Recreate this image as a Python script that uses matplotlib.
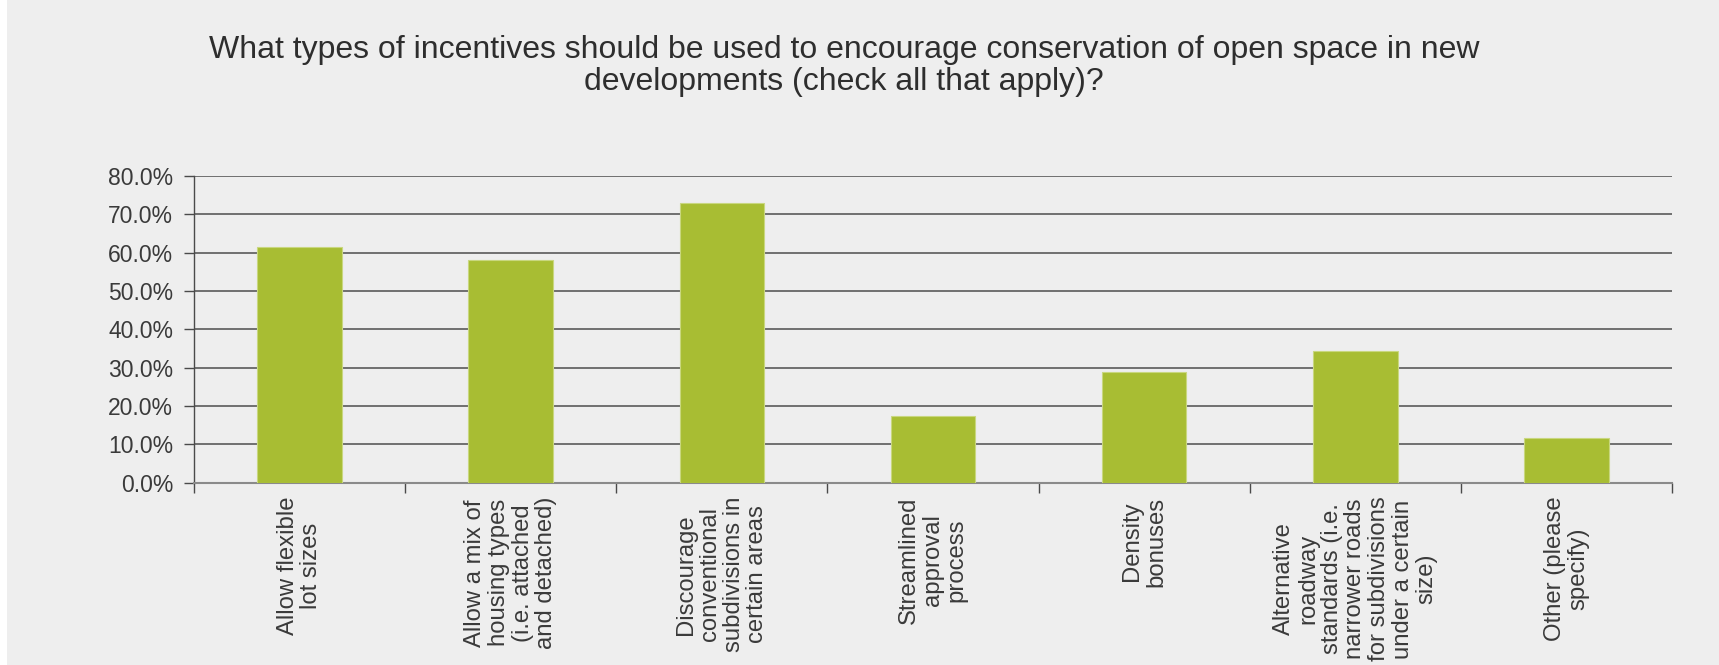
import matplotlib
matplotlib.use("Agg")
import matplotlib.pyplot as plt
from matplotlib.patches import Rectangle
from matplotlib.ticker import FuncFormatter, MultipleLocator

title = ("What types of incentives should be used to encourage conservation of open space in new\n"
         "developments (check all that apply)?")
categories = [
    "Allow flexible\nlot sizes",
    "Allow a mix of\nhousing types\n(i.e. attached\nand detached)",
    "Discourage\nconventional\nsubdivisions in\ncertain areas",
    "Streamlined\napproval\nprocess",
    "Density\nbonuses",
    "Alternative\nroadway\nstandards (i.e.\nnarrower roads\nfor subdivisions\nunder a certain\nsize)",
    "Other (please\nspecify)",
]
values = [61.4, 58.1, 73.0, 17.4, 29.0, 34.4, 11.6]

plt.rcParams['font.family'] = ['Liberation Sans', 'DejaVu Sans']
text_color = '#3a3a3a'
bg = '#eeeeee'

fig = plt.figure(figsize=(17.19, 6.65), dpi=100, facecolor=bg)
fig.patches.append(Rectangle((0, 0), 7 / 1719, 1, transform=fig.transFigure,
                             facecolor='white', edgecolor='none', zorder=-1))
ax = fig.add_axes([194 / 1719, 1 - 482.7 / 665, (1672 - 194) / 1719, (482.7 - 176) / 665])
ax.set_facecolor(bg)

x = list(range(len(categories)))
ax.bar(x, values, width=0.4, color='#a8bd33', edgecolor='#c9d77f', linewidth=0.8, zorder=3)

ax.set_ylim(0, 80)
ax.set_xlim(-0.5, len(categories) - 0.5)
ax.yaxis.set_major_locator(MultipleLocator(10))
ax.yaxis.set_major_formatter(FuncFormatter(lambda v, p: f"{v:.1f}%"))
ax.grid(axis='y', color='#5a5a5a', linewidth=1.2, zorder=0)
ax.set_axisbelow(True)

for s in ['top', 'right']:
    ax.spines[s].set_visible(False)
ax.spines['left'].set_color('#4a4a4a')
ax.spines['left'].set_linewidth(1.0)
ax.spines['bottom'].set_color('#8a8a8a')
ax.spines['bottom'].set_linewidth(1.5)

ax.tick_params(axis='y', direction='out', length=7, width=1, color='#4a4a4a',
               labelsize=16.5, labelcolor=text_color, pad=8)
ax.set_xticks([i + 0.5 for i in range(-1, len(categories))], minor=False)
ax.set_xticklabels([])
ax.tick_params(axis='x', which='major', direction='out', length=7, width=1, color='#4a4a4a')
ax.set_xticks(x, minor=True)
ax.set_xticklabels(categories, minor=True, rotation=90, ha='center', va='top',
                   multialignment='center', fontsize=17.2, color=text_color, linespacing=1.1)
ax.tick_params(axis='x', which='minor', length=0, pad=10)

fig.text(0.491, 1 - 35 / 665, title, ha='center', va='top', fontsize=23,
         color='#2e2e2e', linespacing=1.08)

fig.savefig('out.png', dpi=100, facecolor=bg)
